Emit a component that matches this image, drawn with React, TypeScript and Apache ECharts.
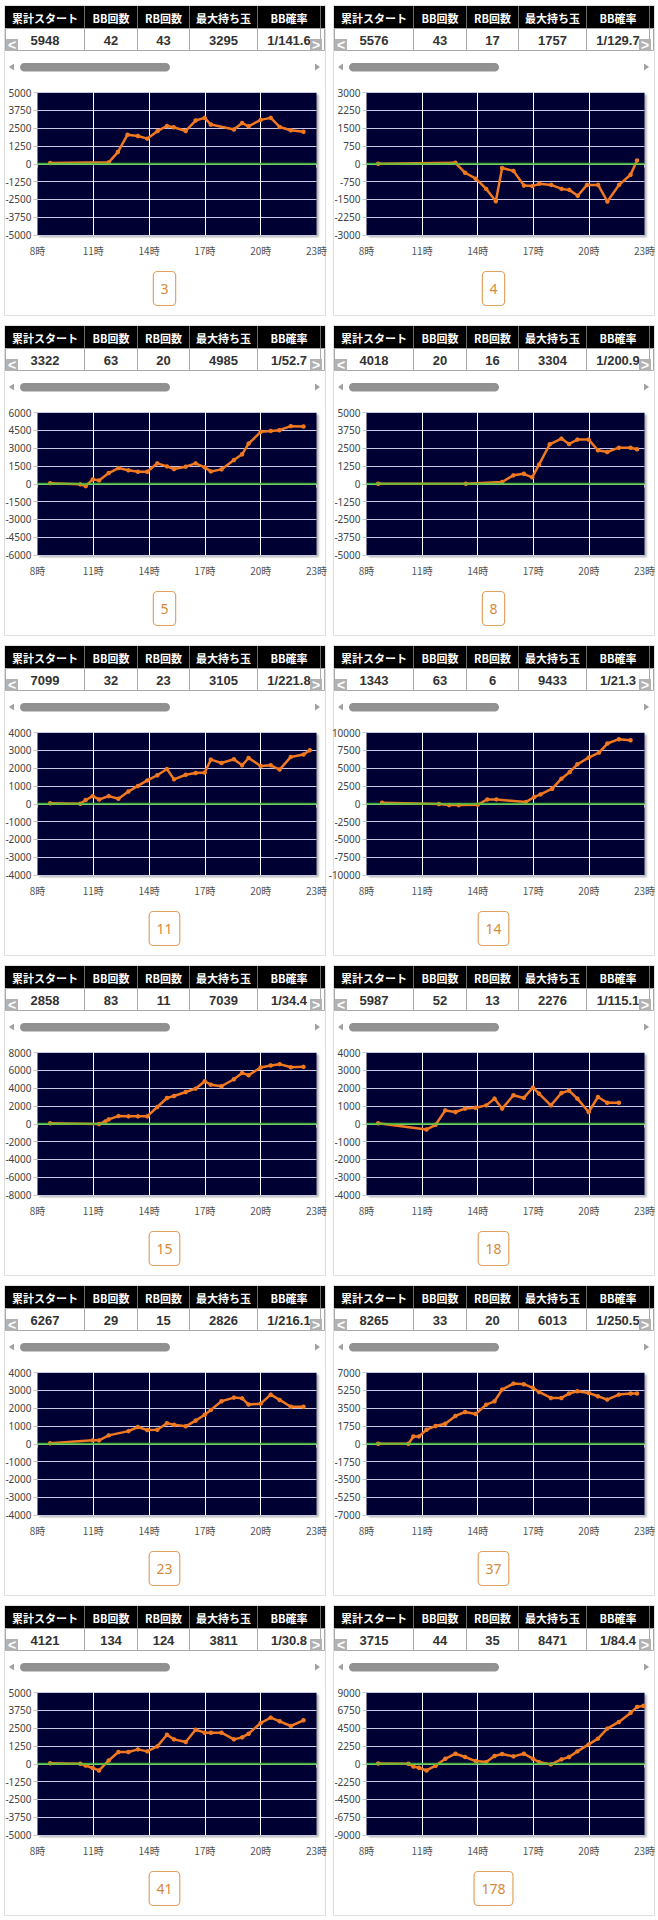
import React, { useEffect, useRef } from "react";
import * as echarts from "echarts";

const panelIds = ["3", "4", "5", "8", "11", "14", "15", "18", "23", "37", "41", "178"];
const headerLabels = ["累計スタート", "BB回数", "RB回数", "最大持ち玉", "BB確率"];
const totalStarts = [5948, 5576, 3322, 4018, 7099, 1343, 2858, 5987, 6267, 8265, 4121, 3715];
const bbCounts = [42, 43, 63, 20, 32, 63, 83, 52, 29, 33, 134, 44];
const rbCounts = [43, 17, 20, 16, 23, 6, 11, 13, 15, 20, 124, 35];
const maxBalls = [3295, 1757, 4985, 3304, 3105, 9433, 7039, 2276, 2826, 6013, 3811, 8471];
const bbProbs = ["1/141.6", "1/129.7", "1/52.7", "1/200.9", "1/221.8", "1/21.3", "1/34.4", "1/115.1", "1/216.1", "1/250.5", "1/30.8", "1/84.4"];
const yMaxes = [5000, 3000, 6000, 5000, 4000, 10000, 8000, 4000, 4000, 7000, 5000, 9000];
const hourStart = 8;
const hourEnd = 23;

const data3 = [[8.68, 50], [11.83, 100], [12.32, 820], [12.84, 2040], [13.4, 1950], [13.9, 1760], [14.46, 2300], [14.96, 2650], [15.32, 2560], [15.97, 2300], [16.5, 3030], [16.99, 3220], [17.32, 2750], [18.56, 2400], [19.0, 2860], [19.35, 2630], [20.0, 3080], [20.54, 3220], [21.02, 2580], [21.62, 2350], [22.3, 2250]];
const data4 = [[8.63, 0], [12.8, 40], [13.32, -380], [13.9, -630], [14.46, -1060], [14.98, -1580], [15.32, -180], [15.93, -300], [16.5, -920], [16.95, -940], [17.32, -845], [17.97, -890], [18.53, -1060], [18.94, -1100], [19.4, -1350], [19.9, -890], [20.5, -890], [21.0, -1590], [21.63, -890], [22.25, -465], [22.6, 140]];
const data5 = [[8.68, 50], [10.3, -50], [10.59, -200], [10.97, 370], [11.31, 280], [11.83, 900], [12.35, 1320], [12.89, 1130], [13.4, 1010], [13.9, 1010], [14.44, 1720], [14.96, 1460], [15.34, 1240], [15.97, 1440], [16.5, 1720], [16.99, 1380], [17.32, 1040], [17.89, 1210], [18.56, 2000], [19.0, 2480], [19.35, 3380], [20.0, 4370], [20.54, 4450], [21.0, 4510], [21.62, 4850], [22.3, 4820]];
const data8 = [[8.63, 0], [13.36, 0], [15.32, 120], [15.92, 590], [16.49, 700], [16.94, 450], [17.31, 1340], [17.89, 2770], [18.52, 3170], [18.93, 2790], [19.38, 3100], [19.99, 3100], [20.49, 2350], [20.99, 2230], [21.62, 2530], [22.25, 2530], [22.6, 2420]];
const data11 = [[8.68, 30], [10.3, 0], [10.59, 210], [10.97, 430], [11.31, 240], [11.83, 430], [12.35, 280], [12.89, 690], [13.4, 1000], [13.9, 1310], [14.44, 1600], [14.96, 1950], [15.34, 1370], [15.97, 1630], [16.5, 1730], [16.99, 1750], [17.32, 2480], [17.89, 2290], [18.56, 2500], [19.0, 2160], [19.35, 2570], [20.0, 2120], [20.54, 2160], [21.02, 1920], [21.62, 2630], [22.3, 2760], [22.64, 3000]];
const data14 = [[8.84, 140], [11.91, -30], [12.46, -190], [12.98, -190], [14.0, -140], [14.52, 610], [15.01, 610], [16.6, 230], [17.05, 940], [17.39, 1310], [18.02, 2110], [18.52, 3520], [18.97, 4460], [19.38, 5540], [19.99, 6480], [20.55, 7180], [21.0, 8450], [21.62, 9060], [22.25, 8920]];
const data15 = [[8.68, 50], [11.31, -30], [11.65, 260], [11.83, 490], [12.35, 860], [12.89, 830], [13.4, 830], [13.9, 830], [14.44, 1880], [14.96, 2890], [15.34, 3120], [15.97, 3570], [16.5, 3940], [16.99, 4770], [17.32, 4390], [17.89, 4210], [18.56, 5000], [19.0, 5710], [19.35, 5450], [20.0, 6310], [20.54, 6540], [21.02, 6690], [21.62, 6350], [22.3, 6390]];
const data18 = [[8.63, 30], [11.24, -320], [11.73, -60], [12.25, 750], [12.8, 660], [13.32, 850], [13.89, 900], [14.46, 1030], [14.91, 1410], [15.32, 850], [15.93, 1600], [16.49, 1450], [16.98, 2030], [17.31, 1690], [17.95, 1030], [18.52, 1730], [18.93, 1860], [19.38, 1410], [19.99, 660], [20.49, 1500], [20.99, 1180], [21.62, 1180]];
const data23 = [[8.68, 30], [10.97, 190], [11.31, 190], [11.83, 470], [12.89, 710], [13.4, 940], [13.9, 770], [14.44, 790], [14.96, 1150], [15.34, 1070], [15.97, 980], [16.5, 1300], [16.99, 1630], [17.32, 1900], [17.89, 2390], [18.56, 2590], [19.0, 2550], [19.35, 2200], [20.0, 2250], [20.54, 2760], [21.02, 2460], [21.62, 2080], [22.3, 2080]];
const data37 = [[8.63, 0], [10.26, 0], [10.53, 720], [10.83, 720], [11.24, 1380], [11.73, 1740], [12.25, 1970], [12.8, 2730], [13.32, 3120], [13.89, 2920], [14.46, 3840], [14.91, 4170], [15.32, 5320], [15.93, 5910], [16.49, 5850], [16.98, 5490], [17.31, 5090], [17.95, 4500], [18.52, 4500], [18.93, 4930], [19.38, 5160], [19.99, 4990], [20.49, 4670], [20.99, 4340], [21.62, 4830], [22.25, 4930], [22.6, 4930]];
const data41 = [[8.68, 30], [10.3, 0], [10.59, -120], [10.97, -300], [11.31, -470], [11.83, 230], [12.35, 820], [12.89, 820], [13.4, 1010], [13.9, 870], [14.44, 1220], [14.96, 2040], [15.34, 1710], [15.97, 1530], [16.5, 2390], [16.99, 2180], [17.32, 2180], [17.89, 2180], [18.56, 1710], [19.0, 1850], [19.35, 2110], [20.0, 2860], [20.54, 3240], [21.02, 2980], [21.62, 2650], [22.3, 3050]];
const data178 = [[8.63, 40], [10.26, 0], [10.53, -340], [10.83, -510], [11.24, -850], [11.73, -250], [12.25, 630], [12.8, 1270], [13.32, 850], [13.89, 340], [14.46, 210], [14.91, 970], [15.32, 1230], [15.93, 930], [16.49, 1270], [16.98, 630], [17.31, 210], [17.95, -80], [18.52, 550], [18.93, 850], [19.38, 1560], [19.99, 2450], [20.49, 3170], [20.99, 4440], [21.62, 5280], [22.25, 6420], [22.6, 7180], [22.94, 7310]];

const seriesData = [data3, data4, data5, data8, data11, data14, data15, data18, data23, data37, data41, data178];

const W = 658;
const H = 1920;
const COL_X = [5, 84, 137, 189, 257, 320, 325];
const JP = '"Noto Sans CJK JP", "Noto Sans", sans-serif';
const NUM = '"Liberation Sans", Arial, sans-serif';

function buildOption() {
  const grid: any[] = [];
  const xAxis: any[] = [];
  const yAxis: any[] = [];
  const series: any[] = [];
  const graphic: any[] = [];

  panelIds.forEach((id, i) => {
    const ox = (i % 2) * 329;
    const oy = Math.floor(i / 2) * 320;
    const ym = yMaxes[i];

    grid.push({
      left: ox + 37.5,
      top: oy + 92.5,
      width: 279,
      height: 142.5,
      show: true,
      backgroundColor: "#000033",
      borderWidth: 0,
      shadowColor: "rgba(0,0,0,0.35)",
      shadowBlur: 2,
      shadowOffsetX: 2,
      shadowOffsetY: 2,
    });
    xAxis.push({
      type: "value",
      gridIndex: i,
      min: 0,
      max: hourEnd - hourStart,
      interval: 3,
      axisLine: { show: true, lineStyle: { color: "#c4c4c4", width: 1 } },
      axisTick: { show: true, length: 4, lineStyle: { color: "#c4c4c4" } },
      axisLabel: {
        formatter: (v: number) => `${v + hourStart}時`,
        fontSize: 10,
        color: "#555",
        margin: 10,
        fontFamily: JP,
      },
      splitLine: { show: true, showMinLine: false, showMaxLine: false, lineStyle: { color: "#ffffff", width: 1 } },
    });
    yAxis.push({
      type: "value",
      gridIndex: i,
      min: -ym,
      max: ym,
      interval: ym / 4,
      axisLine: { show: false },
      axisTick: { show: true, length: 4, lineStyle: { color: "#c4c4c4" } },
      axisLabel: {
        formatter: (v: number) => String(v),
        fontSize: 10,
        color: "#444",
        margin: 6,
        fontFamily: '"Noto Sans", sans-serif',
      },
      splitLine: { show: true, lineStyle: { color: "#c8c8e6", width: 1 } },
    });
    series.push({
      type: "line",
      xAxisIndex: i,
      yAxisIndex: i,
      data: seriesData[i].map((d) => [d[0] - hourStart, d[1]]),
      lineStyle: { color: "#f07820", width: 2.5 },
      itemStyle: { color: "#f07820" },
      symbol: "circle",
      symbolSize: 4.5,
      showSymbol: true,
      z: 3,
      silent: true,
    });
    series.push({
      type: "line",
      xAxisIndex: i,
      yAxisIndex: i,
      data: [[0, 0], [hourEnd - hourStart, 0]],
      lineStyle: { color: "#4ccc3c", width: 2, opacity: 0.82 },
      symbol: "none",
      z: 4,
      silent: true,
    });

    // panel border
    graphic.push({
      type: "rect",
      shape: { x: ox + 4.5, y: oy + 5.5, width: 321, height: 310 },
      style: { fill: "#fff", stroke: "#dedede", lineWidth: 1 },
      z: -10,
    });
    // header row
    graphic.push({
      type: "rect",
      shape: { x: ox + COL_X[0], y: oy + 6, width: COL_X[6] - COL_X[0], height: 22 },
      style: { fill: "#000000" },
      z: 1,
    });
    // value row
    graphic.push({
      type: "rect",
      shape: { x: ox + COL_X[0] + 0.5, y: oy + 28.5, width: COL_X[6] - COL_X[0] - 1, height: 22 },
      style: { fill: "#ffffff", stroke: "#a8a8a8", lineWidth: 1 },
      z: 1,
    });
    for (let c = 1; c < 6; c++) {
      graphic.push({
        type: "line",
        shape: { x1: ox + COL_X[c] + 0.5, y1: oy + 6, x2: ox + COL_X[c] + 0.5, y2: oy + 28 },
        style: { stroke: "#6a6a6a", lineWidth: 1 },
        z: 2,
      });
      graphic.push({
        type: "line",
        shape: { x1: ox + COL_X[c] + 0.5, y1: oy + 28, x2: ox + COL_X[c] + 0.5, y2: oy + 51 },
        style: { stroke: "#a8a8a8", lineWidth: 1 },
        z: 2,
      });
    }
    const vals = [String(totalStarts[i]), String(bbCounts[i]), String(rbCounts[i]), String(maxBalls[i]), bbProbs[i]];
    for (let c = 0; c < 5; c++) {
      const cx = ox + (COL_X[c] + COL_X[c + 1]) / 2 + 0.5;
      graphic.push({
        type: "text",
        x: cx,
        y: oy + 17.5,
        style: {
          text: headerLabels[c],
          fill: "#ffffff",
          font: `bold 11px ${JP}`,
          align: "center",
          verticalAlign: "middle",
          textAlign: "center",
          textVerticalAlign: "middle",
        },
        z: 3,
      });
      graphic.push({
        type: "text",
        x: cx,
        y: oy + 40,
        style: {
          text: vals[c],
          fill: "#333333",
          font: `bold 13px ${NUM}`,
          align: "center",
          verticalAlign: "middle",
          textAlign: "center",
          textVerticalAlign: "middle",
        },
        z: 3,
      });
    }
    // left / right buttons
    [[6, "<"], [310, ">"]].forEach(([bx, ch]: any) => {
      graphic.push({
        type: "rect",
        shape: { x: ox + bx, y: oy + 39, width: 12, height: 12 },
        style: { fill: "#b2b2b2" },
        z: 4,
      });
      graphic.push({
        type: "text",
        x: ox + bx + 6,
        y: oy + 45,
        style: {
          text: ch,
          fill: "#ffffff",
          font: `bold 14px ${NUM}`,
          align: "center",
          verticalAlign: "middle",
          textAlign: "center",
          textVerticalAlign: "middle",
        },
        z: 5,
      });
    });
    // scrollbar
    graphic.push({
      type: "polygon",
      shape: { points: [[ox + 9, oy + 67], [ox + 14, oy + 63.5], [ox + 14, oy + 70.5]] },
      style: { fill: "#a0a0a0" },
      z: 2,
    });
    graphic.push({
      type: "polygon",
      shape: { points: [[ox + 320, oy + 67], [ox + 315, oy + 63.5], [ox + 315, oy + 70.5]] },
      style: { fill: "#a0a0a0" },
      z: 2,
    });
    graphic.push({
      type: "rect",
      shape: { x: ox + 20, y: oy + 63, width: 150, height: 8.5, r: 4.25 },
      style: { fill: "#919191" },
      z: 2,
    });
    // badge
    const bw = 14 + 8.3 * id.length;
    const bcx = ox + 164.5;
    graphic.push({
      type: "rect",
      shape: { x: bcx - bw / 2, y: oy + 271.5, width: bw, height: 34, r: 4 },
      style: { fill: "#ffffff", stroke: "#e2a262", lineWidth: 1.2 },
      z: 2,
    });
    graphic.push({
      type: "text",
      x: bcx,
      y: oy + 288.5,
      style: {
        text: id,
        fill: "#d48a3c",
        font: `14px "Noto Sans", sans-serif`,
        align: "center",
        verticalAlign: "middle",
        textAlign: "center",
        textVerticalAlign: "middle",
      },
      z: 3,
    });
  });

  return {
    animation: false,
    backgroundColor: "#ffffff",
    grid,
    xAxis,
    yAxis,
    series,
    graphic: { elements: graphic },
  };
}

export default function App() {
  const ref = useRef<HTMLDivElement>(null);
  useEffect(() => {
    if (!ref.current) return;
    const chart = echarts.init(ref.current, undefined, { renderer: "svg", width: W, height: H });
    chart.setOption(buildOption());
    return () => chart.dispose();
  }, []);
  return (
    <div
      ref={ref}
      style={{ position: "absolute", left: 0, top: 0, width: W, height: H, background: "#fff" }}
    />
  );
}
